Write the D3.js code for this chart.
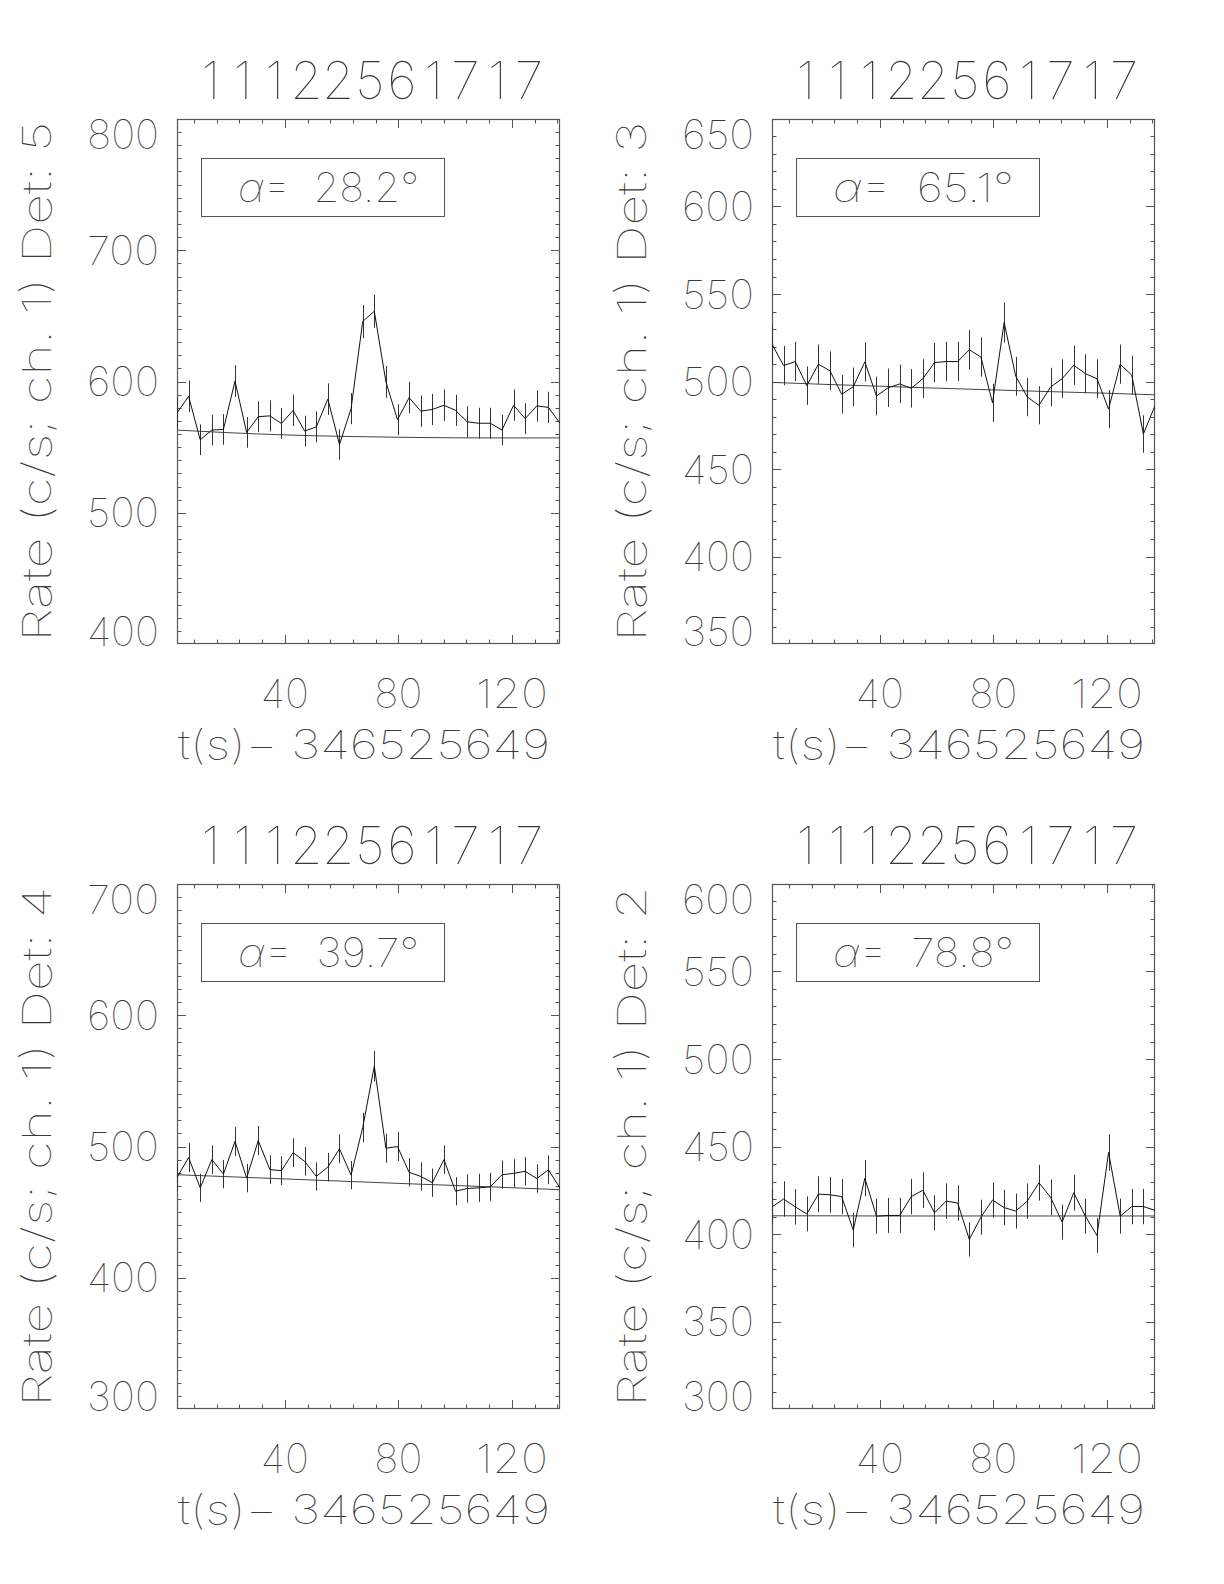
<!DOCTYPE html>
<html>
<head>
<meta charset="utf-8">
<script src="https://cdn.jsdelivr.net/npm/d3@7"></script>
<style>
  html, body { margin: 0; padding: 0; background: #fff; }
  svg { display: block; }
  text { font-family: Inter, Roboto, "DejaVu Sans", sans-serif; font-weight: 100; fill: #3a3a3a; }
</style>
</head>
<body>
<script>
// ---------------- data ----------------
const burstTitle = "11122561717";
const xAxisTitle = "t(s)\u2212 346525649";
const detectors = [5, 3, 4, 2];
const alphaValues = ["28.2", "65.1", "39.7", "78.8"];

// bin times (s) relative to 346525649
const tValues = [2.00, 6.09, 10.18, 14.27, 18.36, 22.45, 26.54, 30.63, 34.72, 38.81,
  42.90, 46.99, 51.08, 55.17, 59.26, 63.35, 67.44, 71.53, 75.62, 79.71,
  83.80, 87.89, 91.98, 96.07, 100.16, 104.25, 108.34, 112.43, 116.52, 120.61,
  124.70, 128.79, 132.88, 136.97];

const rateDet5 = [576.1, 588.7, 555.6, 563.0, 563.5, 600.3, 561.2, 573.2, 573.8, 568.0,
  578.0, 562.2, 565.4, 586.6, 552.0, 579.3, 645.7, 653.5, 599.7, 570.9,
  587.7, 577.4, 578.7, 581.9, 578.0, 569.3, 568.2, 568.2, 563.0, 581.9,
  571.7, 581.4, 580.3, 568.2];
const errDet5 = [11.9, 12.0, 11.7, 11.7, 11.7, 12.1, 11.7, 11.8, 11.8, 11.8,
  11.9, 11.7, 11.7, 12.0, 11.6, 11.9, 12.6, 12.6, 12.1, 11.8,
  12.0, 11.9, 11.9, 11.9, 11.9, 11.8, 11.8, 11.8, 11.7, 11.9,
  11.8, 11.9, 11.9, 11.8];

const rateDet3 = [521.3, 509.1, 511.4, 497.6, 509.9, 506.1, 492.7, 497.0, 511.2, 491.7,
  496.4, 498.6, 496.1, 501.6, 510.8, 511.4, 511.4, 518.1, 514.0, 487.8,
  533.7, 503.0, 491.1, 486.4, 496.8, 501.6, 509.3, 504.5, 501.6, 484.2,
  509.9, 503.6, 470.0, 486.2];
const errDet3 = [11.3, 11.2, 11.2, 11.0, 11.2, 11.1, 11.0, 11.0, 11.2, 11.0,
  11.0, 11.0, 11.0, 11.1, 11.2, 11.2, 11.2, 11.3, 11.2, 10.9,
  11.4, 11.1, 11.0, 10.9, 11.0, 11.1, 11.2, 11.1, 11.1, 10.9,
  11.2, 11.1, 10.7, 10.9];

const rateDet4 = [476.4, 491.6, 468.5, 490.0, 479.0, 503.9, 475.9, 504.5, 482.4, 481.6,
  495.3, 488.7, 477.2, 484.3, 498.2, 478.2, 514.4, 561.2, 498.7, 500.0,
  480.3, 477.2, 472.4, 490.0, 465.9, 468.0, 468.5, 469.3, 478.5, 479.5,
  481.1, 475.6, 482.2, 468.5];
const errDet4 = [10.8, 11.0, 10.7, 10.9, 10.8, 11.1, 10.8, 11.1, 10.9, 10.9,
  11.0, 10.9, 10.8, 10.9, 11.0, 10.8, 11.2, 11.7, 11.0, 11.1,
  10.8, 10.8, 10.8, 10.9, 10.7, 10.7, 10.7, 10.7, 10.8, 10.8,
  10.8, 10.8, 10.9, 10.7];

const rateDet2 = [415.5, 420.0, 415.5, 411.5, 422.8, 422.4, 421.4, 402.3, 431.9, 410.2,
  410.6, 410.6, 421.4, 425.0, 412.1, 418.8, 417.7, 396.9, 409.6, 419.4,
  415.1, 413.1, 418.8, 429.3, 421.0, 406.8, 423.6, 410.2, 399.1, 446.6,
  410.2, 415.7, 415.7, 413.5];
const errDet2 = [10.1, 10.1, 10.1, 10.0, 10.2, 10.2, 10.1, 9.9, 10.3, 10.0,
  10.0, 10.0, 10.1, 10.2, 10.0, 10.1, 10.1, 9.8, 10.0, 10.1,
  10.1, 10.0, 10.1, 10.2, 10.1, 10.0, 10.2, 10.0, 9.9, 10.4,
  10.0, 10.1, 10.1, 10.0];

// background model, sampled at a few times
const bgTimes = [2.0, 20, 40, 60, 80, 100, 120, 136.97];
const bgDet5 = [563.0, 561.0, 559.3, 558.2, 557.5, 557.1, 557.0, 557.0];
const bgDet3 = [499.5, 498.4, 497.3, 496.2, 495.2, 494.2, 493.3, 492.4];
const bgDet4 = [478.5, 477.0, 475.3, 473.6, 471.9, 470.3, 468.6, 467.1];
const bgDet2 = [410.4, 410.4, 410.3, 410.3, 410.3, 410.3, 410.3, 410.3];

// axis ranges and tick labels
const yDomains = [[400, 800], [350, 650], [300, 700], [300, 600]];
const yTickLabels = [
  [400, 500, 600, 700, 800],
  [350, 400, 450, 500, 550, 600, 650],
  [300, 400, 500, 600, 700],
  [300, 350, 400, 450, 500, 550, 600]
];
const xDomain = [2.0, 136.97];
const xTickLabels = [40, 80, 120];
const xMinorStep = 8;
const yMinorStep = 10;

const rates = [rateDet5, rateDet3, rateDet4, rateDet2];
const errors = [errDet5, errDet3, errDet4, errDet2];
const backgrounds = [bgDet5, bgDet3, bgDet4, bgDet2];

// ---------------- layout ----------------
const W = 1224, H = 1584;
const panelLeft = [177, 772, 177, 772];
const panelTop = [119, 119, 884, 884];
const pw = 383, ph = 525;
const majorLen = 9, minorLen = 4.5;
const axisColor = "#555";
const titlePitch = 350 / 11;

const svg = d3.select("body").append("svg")
  .attr("width", W).attr("height", H)
  .attr("viewBox", `0 0 ${W} ${H}`);
svg.append("rect").attr("width", W).attr("height", H).attr("fill", "#fff");

for (let p = 0; p < 4; p++) {
  const g = svg.append("g").attr("transform", `translate(${panelLeft[p]},${panelTop[p]})`);
  const x = d3.scaleLinear().domain(xDomain).range([0, pw]);
  const y = d3.scaleLinear().domain(yDomains[p]).range([ph, 0]);

  const clipId = "clip" + p;
  g.append("clipPath").attr("id", clipId).append("rect")
    .attr("x", 0).attr("y", 0).attr("width", pw).attr("height", ph);

  // ticks
  const xTicks = d3.range(xMinorStep, xDomain[1], xMinorStep);
  const yTicks = d3.range(yDomains[p][0] + yMinorStep, yDomains[p][1], yMinorStep);
  const isMajorX = v => xTickLabels.includes(v);
  const isMajorY = v => yTickLabels[p].includes(v);

  const tickG = g.append("g").attr("stroke", axisColor).attr("stroke-width", 1);
  xTicks.forEach(v => {
    const L = isMajorX(v) ? majorLen : minorLen;
    const xx = Math.round(x(v)) + 0.5;
    tickG.append("line").attr("x1", xx).attr("x2", xx).attr("y1", ph).attr("y2", ph - L);
    tickG.append("line").attr("x1", xx).attr("x2", xx).attr("y1", 0).attr("y2", L);
  });
  yTicks.forEach(v => {
    const L = isMajorY(v) ? majorLen : minorLen;
    const yy = Math.round(y(v)) + 0.5;
    tickG.append("line").attr("x1", 0).attr("x2", L).attr("y1", yy).attr("y2", yy);
    tickG.append("line").attr("x1", pw).attr("x2", pw - L).attr("y1", yy).attr("y2", yy);
  });

  // frame
  g.append("rect").attr("x", 0.5).attr("y", 0.5).attr("width", pw - 1).attr("height", ph - 1)
    .attr("fill", "none").attr("stroke", axisColor).attr("stroke-width", 1.2);

  const plotG = g.append("g").attr("clip-path", `url(#${clipId})`);

  // background model
  const bgLine = d3.line().x((d, i) => x(bgTimes[i])).y(d => y(d)).curve(d3.curveMonotoneX);
  plotG.append("path").datum(backgrounds[p]).attr("d", bgLine)
    .attr("fill", "none").attr("stroke", "#444").attr("stroke-width", 1);

  // error bars
  plotG.selectAll("line.err").data(rates[p]).enter().append("line")
    .attr("class", "err")
    .attr("x1", (d, i) => Math.round(x(tValues[i])) + 0.5)
    .attr("x2", (d, i) => Math.round(x(tValues[i])) + 0.5)
    .attr("y1", (d, i) => y(d - errors[p][i]))
    .attr("y2", (d, i) => y(d + errors[p][i]))
    .attr("stroke", "#333").attr("stroke-width", 1);

  // rate curve
  const line = d3.line().x((d, i) => x(tValues[i])).y(d => y(d));
  plotG.append("path").datum(rates[p]).attr("d", line)
    .attr("fill", "none").attr("stroke", "#111").attr("stroke-width", 1);

  // y tick labels
  const yl = yTickLabels[p];
  yl.forEach((v, k) => {
    let off = 14.5;
    if (k === 0) off = 1.5;
    if (k === yl.length - 1) off = 29.5;
    g.append("text").attr("x", -18).attr("y", y(v) + off)
      .attr("text-anchor", "end").attr("font-size", 40)
      .attr("textLength", 72).attr("lengthAdjust", "spacingAndGlyphs")
      .text(v);
  });

  // x tick labels
  xTickLabels.forEach(v => {
    const s = String(v);
    g.append("text").attr("x", x(v)).attr("y", ph + 64)
      .attr("text-anchor", "middle").attr("font-size", 40)
      .attr("textLength", s.length * 24).attr("lengthAdjust", "spacingAndGlyphs")
      .text(s);
  });

  // x axis title
  g.append("text").attr("x", pw - 10 - 372).attr("y", ph + 115)
    .attr("font-size", 40)
    .attr("textLength", 372).attr("lengthAdjust", "spacingAndGlyphs")
    .text(xAxisTitle);

  // y axis title
  g.append("text")
    .attr("transform", `translate(${-126},${ph / 2}) rotate(-90)`)
    .attr("text-anchor", "middle").attr("font-size", 40)
    .attr("textLength", 520).attr("lengthAdjust", "spacingAndGlyphs")
    .text(`Rate (c/s; ch. 1) Det: ${detectors[p]}`);

  // plot title: fixed-pitch characters
  const tt = g.append("text").attr("y", -20).attr("font-size", 52).attr("text-anchor", "middle");
  burstTitle.split("").forEach((c, k) => {
    tt.append("tspan").attr("x", 18 + titlePitch * (k + 0.5)).text(c);
  });

  // alpha box
  g.append("rect").attr("x", 24.5).attr("y", 39.5).attr("width", 243).attr("height", 58)
    .attr("fill", "none").attr("stroke", axisColor).attr("stroke-width", 1);
  const at = g.append("text").attr("x", 61).attr("y", 83).attr("font-size", 40)
    .attr("textLength", 181).attr("lengthAdjust", "spacingAndGlyphs");
  at.append("tspan").attr("font-style", "italic").text("\u03B1");
  at.append("tspan").text(`= \u00A0${alphaValues[p]}\u00B0`);
}
</script>
</body>
</html>
